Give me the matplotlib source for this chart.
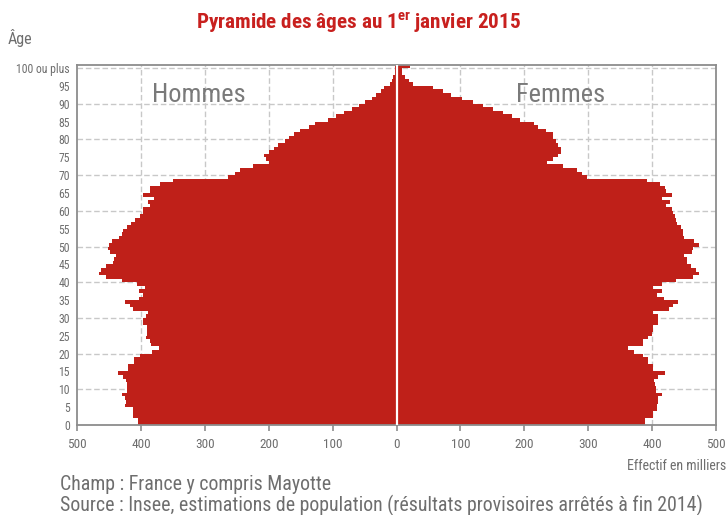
import matplotlib
matplotlib.use("Agg")
import matplotlib.pyplot as plt
from matplotlib import font_manager as fm
import numpy as np

# ---------------- data (thousands) ----------------
ages = list(range(0, 101))
age_tick_values = list(range(0, 101, 5))
age_tick_labels = [str(a) for a in range(0, 100, 5)] + ["100 ou plus"]
x_tick_values = [-500, -400, -300, -200, -100, 0, 100, 200, 300, 400, 500]
x_tick_labels = ["500", "400", "300", "200", "100", "0", "100", "200", "300", "400", "500"]

hommes = [
    404, 404, 412, 412, 412, 425, 424, 425, 430, 422,   # 0-9
    422, 421, 423, 428, 436, 420, 420, 411, 411, 402,   # 10-19
    382, 371, 384, 385, 392, 390, 391, 391, 396, 396,   # 20-29
    392, 389, 413, 417, 425, 403, 396, 403, 393, 406,   # 30-39
    430, 455, 465, 462, 454, 443, 442, 439, 449, 451,   # 40-49
    450, 446, 434, 430, 428, 421, 415, 410, 402, 396,   # 50-59
    396, 385, 389, 380, 396, 385, 385, 370, 350, 264,   # 60-69
    253, 245, 225, 200, 205, 207, 200, 192, 186, 175,   # 70-79
    169, 160, 151, 137, 127, 107, 95, 82, 70, 58,       # 80-89
    50, 39, 32, 24, 20, 10, 7, 5, 3, 2,                 # 90-99
    3,                                                  # 100+
]
femmes = [
    389, 389, 401, 401, 407, 407, 410, 410, 415, 406,   # 0-9
    406, 405, 403, 410, 420, 401, 401, 393, 393, 386,   # 10-19
    371, 363, 385, 386, 394, 400, 402, 402, 410, 410,   # 20-29
    410, 402, 427, 432, 440, 418, 407, 415, 402, 415,   # 30-39
    438, 464, 473, 469, 461, 454, 455, 450, 462, 464,   # 40-49
    473, 466, 450, 449, 448, 445, 439, 438, 436, 433,   # 50-59
    431, 422, 428, 415, 431, 422, 420, 413, 392, 298,   # 60-69
    290, 282, 261, 235, 245, 253, 258, 257, 253, 250,   # 70-79
    245, 245, 234, 222, 215, 194, 180, 166, 151, 135,   # 80-89
    119, 102, 86, 72, 57, 26, 19, 13, 9, 8,             # 90-99
    21,                                                 # 100+
]

# ---------------- style ----------------
avail = {f.name for f in fm.fontManager.ttflist}
fam = None
for cand in ["Liberation Sans Narrow", "DejaVu Sans Condensed", "Roboto Condensed", "Open Sans Condensed", "Roboto"]:
    if cand in avail:
        fam = cand
        break
if fam is None:
    fam = "DejaVu Sans"
plt.rcParams["font.family"] = [fam, "DejaVu Sans"]

RED = "#BF2019"
GREY_TXT = "#6E6E6E"
GRID = "#C8C8C8"
SPINE = "#8C8C8C"

fig = plt.figure(figsize=(7.26, 5.15), dpi=100)
ax = fig.add_axes([77 / 726, 1 - 425 / 515, (716 - 77) / 726, (425 - 64.5) / 515])

y = np.array(ages)
ax.barh(y, -np.array(hommes), height=1.0, align="edge", color=RED, linewidth=0, zorder=2)
ax.barh(y, np.array(femmes), height=1.0, align="edge", color=RED, linewidth=0, zorder=2)
ax.axvline(0, color="white", lw=1.6, zorder=3)

ax.set_xlim(-500, 500)
ax.set_ylim(0, 101)

for gx in [-400, -300, -200, -100, 100, 200, 300, 400]:
    ax.axvline(gx, color=GRID, lw=1.0, ls=(0, (4, 2)), zorder=1)
for gy in range(10, 101, 10):
    ax.axhline(gy, color=GRID, lw=1.0, ls=(0, (4, 2)), zorder=1)

ax.set_xticks(x_tick_values)
ax.set_xticklabels(x_tick_labels)
ax.set_yticks(age_tick_values)
ax.set_yticklabels(age_tick_labels)
ax.tick_params(axis="x", colors=SPINE, labelcolor=GREY_TXT, labelsize=9.5, length=4, width=1.2, pad=5)
ax.tick_params(axis="y", length=0, labelcolor=GREY_TXT, labelsize=8.5, pad=5)
for s in ax.spines.values():
    s.set_color(SPINE)
    s.set_linewidth(1.3)

ax.text(-310, 92.4, "Hommes", fontsize=19, color="#7A7A7A", ha="center", va="center", zorder=4)
ax.text(257, 92.4, "Femmes", fontsize=19, color="#7A7A7A", ha="center", va="center", zorder=4)

fig.text(358 / 726, 1 - 23 / 515, "Pyramide des âges au 1$^{\\mathregular{er}}$ janvier 2015",
         ha="center", va="center", fontsize=15.2, fontweight="bold", color="#C8201E")
fig.text(8 / 726, 1 - 38 / 515, "Âge", ha="left", va="center", fontsize=11.5, color=GREY_TXT)
fig.text(726 / 726, 1 - 466 / 515, "Effectif en milliers", ha="right", va="center", fontsize=10, color=GREY_TXT)
fig.text(60 / 726, 1 - 484 / 515, "Champ : France y compris Mayotte", ha="left", va="center", fontsize=14.3, color=GREY_TXT)
fig.text(60 / 726, 1 - 505 / 515, "Source : Insee, estimations de population (résultats provisoires arrêtés à fin 2014)",
         ha="left", va="center", fontsize=14.3, color=GREY_TXT)

fig.savefig("out.png", dpi=100)
